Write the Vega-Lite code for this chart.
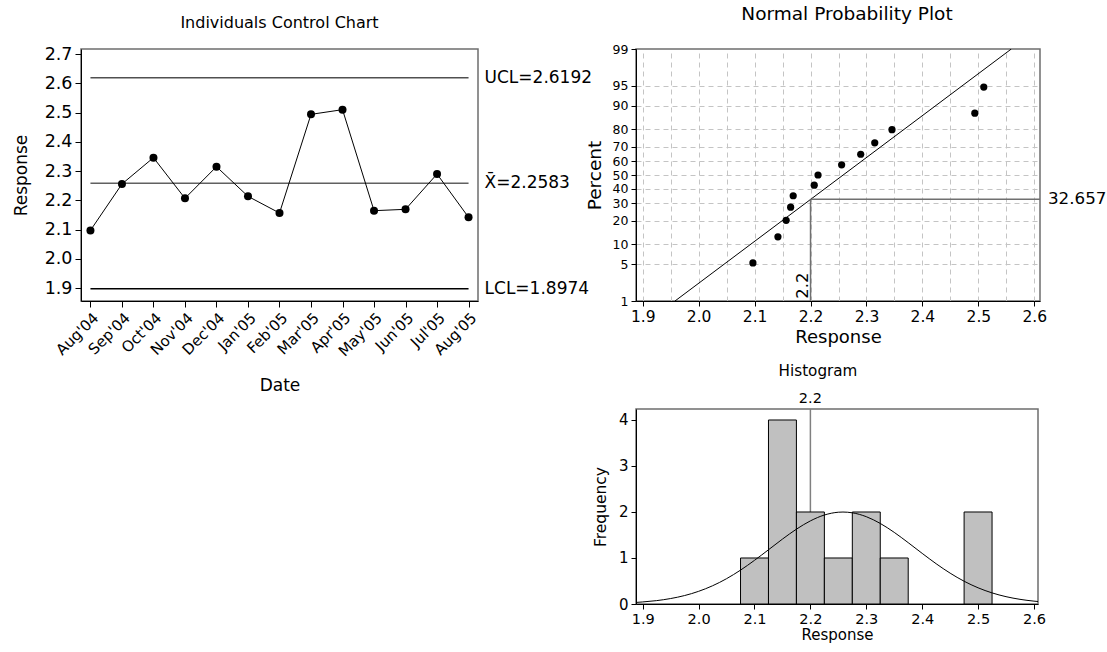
{
  "$schema": "https://vega.github.io/schema/vega-lite/v6.json",
  "background": "white",
  "padding": {"left": 11, "top": 3, "right": 2, "bottom": 2},
  "config": {
    "font": "DejaVu Sans",
    "view": {"stroke": "#6e6e6e", "strokeWidth": 1.5},
    "axis": {"labelColor": "#000", "titleColor": "#000", "domainColor": "#000", "tickColor": "#000", "titleFontWeight": "normal", "grid": false, "labelPadding": 3, "tickSize": 5, "labelOverlap": false, "labelFlush": false},
    "title": {"fontWeight": "normal", "color": "#000", "anchor": "middle"}
  },
  "datasets": {
    "ctrl": [
      {"Index": 0, "Date": "Aug'04", "Response": 2.097},
      {"Index": 1, "Date": "Sep'04", "Response": 2.2556},
      {"Index": 2, "Date": "Oct'04", "Response": 2.3456},
      {"Index": 3, "Date": "Nov'04", "Response": 2.2066},
      {"Index": 4, "Date": "Dec'04", "Response": 2.3148},
      {"Index": 5, "Date": "Jan'05", "Response": 2.2134},
      {"Index": 6, "Date": "Feb'05", "Response": 2.1564},
      {"Index": 7, "Date": "Mar'05", "Response": 2.4937},
      {"Index": 8, "Date": "Apr'05", "Response": 2.5097},
      {"Index": 9, "Date": "May'05", "Response": 2.1644},
      {"Index": 10, "Date": "Jun'05", "Response": 2.169},
      {"Index": 11, "Date": "Jul'05", "Response": 2.2897},
      {"Index": 12, "Date": "Aug'05", "Response": 2.1417}
    ],
    "limits": [
      {"label": "UCL=2.6192", "value": 2.6192, "from": 0, "to": 12},
      {"label": "X\u0304=2.2583", "value": 2.2583, "from": 0, "to": 12},
      {"label": "LCL=1.8974", "value": 1.8974, "from": 0, "to": 12}
    ],
    "prob": [
      {"Response": 2.097, "Percent": 5.22, "Z": -1.6232},
      {"Response": 2.1417, "Percent": 12.69, "Z": -1.1413},
      {"Response": 2.1564, "Percent": 20.15, "Z": -0.8363},
      {"Response": 2.1644, "Percent": 27.61, "Z": -0.5944},
      {"Response": 2.169, "Percent": 35.07, "Z": -0.3833},
      {"Response": 2.2066, "Percent": 42.54, "Z": -0.1882},
      {"Response": 2.2134, "Percent": 50.0, "Z": 0.0},
      {"Response": 2.2556, "Percent": 57.46, "Z": 0.1882},
      {"Response": 2.2897, "Percent": 64.93, "Z": 0.3833},
      {"Response": 2.3148, "Percent": 72.39, "Z": 0.5944},
      {"Response": 2.3456, "Percent": 79.85, "Z": 0.8363},
      {"Response": 2.4937, "Percent": 87.31, "Z": 1.1413},
      {"Response": 2.5097, "Percent": 94.78, "Z": 1.6232}
    ],
    "fit": [
      {"Response": 1.9577, "Z": -2.3263},
      {"Response": 2.5589, "Z": 2.3263}
    ],
    "cross": [
      {"Response": 2.2, "Percent": 32.657, "Z": -0.4494, "label": "32.657", "Zlow": -2.3263, "Xhigh": 2.6102, "Zlabel": -2.285, "Fmax": 4.239}
    ],
    "hist": [
      {"start": 2.075, "end": 2.125, "count": 1, "base": 0},
      {"start": 2.125, "end": 2.175, "count": 4, "base": 0},
      {"start": 2.175, "end": 2.225, "count": 2, "base": 0},
      {"start": 2.225, "end": 2.275, "count": 1, "base": 0},
      {"start": 2.275, "end": 2.325, "count": 2, "base": 0},
      {"start": 2.325, "end": 2.375, "count": 1, "base": 0},
      {"start": 2.475, "end": 2.525, "count": 2, "base": 0}
    ],
    "curve": [
      {"x": 1.888, "f": 0.0341},
      {"x": 1.9, "f": 0.0448},
      {"x": 1.925, "f": 0.0736},
      {"x": 1.95, "f": 0.1186},
      {"x": 1.975, "f": 0.184},
      {"x": 2.0, "f": 0.2752},
      {"x": 2.025, "f": 0.3964},
      {"x": 2.05, "f": 0.5505},
      {"x": 2.075, "f": 0.7364},
      {"x": 2.1, "f": 0.9492},
      {"x": 2.125, "f": 1.1788},
      {"x": 2.15, "f": 1.4107},
      {"x": 2.175, "f": 1.6265},
      {"x": 2.2, "f": 1.8069},
      {"x": 2.225, "f": 1.9342},
      {"x": 2.25, "f": 1.9949},
      {"x": 2.2583, "f": 1.999},
      {"x": 2.275, "f": 1.9825},
      {"x": 2.3, "f": 1.8983},
      {"x": 2.325, "f": 1.7514},
      {"x": 2.35, "f": 1.5568},
      {"x": 2.375, "f": 1.3335},
      {"x": 2.4, "f": 1.1006},
      {"x": 2.425, "f": 0.8752},
      {"x": 2.45, "f": 0.6706},
      {"x": 2.475, "f": 0.495},
      {"x": 2.5, "f": 0.3521},
      {"x": 2.525, "f": 0.2413},
      {"x": 2.55, "f": 0.1594},
      {"x": 2.575, "f": 0.1014},
      {"x": 2.6, "f": 0.0622},
      {"x": 2.6072, "f": 0.0537}
    ]
  },
  "hconcat": [
    {
      "width": 397,
      "height": 252,
      "title": {"text": "Individuals Control Chart", "fontSize": 16, "offset": 14},
      "layer": [
        {
          "data": {"name": "limits"},
          "mark": {"type": "rule", "strokeWidth": 1.5},
          "encoding": {
            "x": {"field": "from", "type": "quantitative"},
            "x2": {"field": "to"},
            "y": {"field": "value", "type": "quantitative"},
            "color": {"field": "label", "type": "nominal", "scale": {"domain": ["UCL=2.6192", "X\u0304=2.2583", "LCL=1.8974"], "range": ["#505050", "#606060", "#000000"]}, "legend": null}
          }
        },
        {
          "data": {"name": "limits"},
          "mark": {"type": "text", "align": "left", "baseline": "middle", "dx": 16, "fontSize": 17, "color": "#000"},
          "encoding": {
            "x": {"field": "to", "type": "quantitative"},
            "y": {"field": "value", "type": "quantitative"},
            "text": {"field": "label", "type": "nominal"}
          }
        },
        {
          "data": {"name": "ctrl"},
          "mark": {"type": "line", "color": "#000", "strokeWidth": 1, "point": {"filled": true, "color": "#000", "size": 64, "opacity": 1}},
          "encoding": {
            "x": {
              "field": "Index", "type": "quantitative",
              "scale": {"domain": [-0.3, 12.3], "nice": false, "zero": false},
              "axis": {"title": "Date", "values": [0, 1, 2, 3, 4, 5, 6, 7, 8, 9, 10, 11, 12], "tickCount": 100, "labelExpr": "[\"Aug'04\", \"Sep'04\", \"Oct'04\", \"Nov'04\", \"Dec'04\", \"Jan'05\", \"Feb'05\", \"Mar'05\", \"Apr'05\", \"May'05\", \"Jun'05\", \"Jul'05\", \"Aug'05\"][datum.value]", "labelAngle": -45, "labelAlign": "right", "labelBaseline": "top", "labelFontSize": 15, "labelOverlap": false, "titleFontSize": 17, "tickSize": 6, "titlePadding": 19}
            },
            "y": {
              "field": "Response", "type": "quantitative",
              "scale": {"domain": [1.8556, 2.7171], "nice": false, "zero": false},
              "axis": {"title": "Response", "values": [1.9, 2.0, 2.1, 2.2, 2.3, 2.4, 2.5, 2.6, 2.7], "tickCount": 100, "format": ".1f", "labelFontSize": 17.5, "labelOverlap": false, "titleFontSize": 17, "titlePadding": 14, "tickSize": 6}
            }
          }
        }
      ]
    },
    {
      "spacing": 108,
      "bounds": "flush",
      "vconcat": [
        {
          "width": 404,
          "height": 252,
          "title": {"text": "Normal Probability Plot", "fontSize": 18.5, "offset": 20, "dx": 9},
          "resolve": {"axis": {"x": "independent"}},
          "layer": [
            {
              "data": {"name": "fit"},
              "mark": {"type": "line", "color": "#000", "strokeWidth": 1, "clip": true},
              "encoding": {
                "x": {
                  "field": "Response", "type": "quantitative",
                  "scale": {"domain": [1.888, 2.6102], "nice": false, "zero": false},
                  "axis": {"orient": "top", "values": [1.9, 1.95, 2.0, 2.05, 2.1, 2.15, 2.2, 2.25, 2.3, 2.35, 2.4, 2.45, 2.5, 2.55, 2.6], "tickCount": 100, "labels": false, "ticks": false, "domain": false, "title": null, "grid": true, "gridColor": "#c4c4c4", "gridDash": [5, 4], "gridWidth": 1}
                },
                "y": {
                  "field": "Z", "type": "quantitative",
                  "scale": {"domain": [-2.3263, 2.3263], "nice": false, "zero": false},
                  "axis": {"title": "Percent", "values": [-2.3263, -1.6449, -1.2816, -0.8416, -0.5244, -0.2533, 0, 0.2533, 0.5244, 0.8416, 1.2816, 1.6449, 2.3263], "tickCount": 100, "labelExpr": "format(cumulativeNormal(datum.value) * 100, '.0f')", "labelFontSize": 12.5, "labelOverlap": false, "titleFontSize": 18.5, "titlePadding": 8, "grid": true, "gridColor": "#c4c4c4", "gridDash": [5, 4], "gridWidth": 1, "gridOpacity": {"condition": {"test": "abs(datum.value) > 2.3", "value": 0}, "value": 1}}
                }
              }
            },
            {
              "data": {"name": "cross"},
              "mark": {"type": "rule", "color": "#707070", "strokeWidth": 1.5},
              "encoding": {
                "x": {"field": "Response", "type": "quantitative", "axis": null},
                "y": {"field": "Zlow", "type": "quantitative"},
                "y2": {"field": "Z"}
              }
            },
            {
              "data": {"name": "cross"},
              "mark": {"type": "rule", "color": "#707070", "strokeWidth": 1.5},
              "encoding": {
                "x": {"field": "Response", "type": "quantitative", "axis": null},
                "x2": {"field": "Xhigh"},
                "y": {"field": "Z", "type": "quantitative"}
              }
            },
            {
              "data": {"name": "cross"},
              "mark": {"type": "text", "align": "left", "baseline": "middle", "dx": 8, "fontSize": 16.7, "color": "#000"},
              "encoding": {
                "x": {"field": "Xhigh", "type": "quantitative", "axis": null},
                "y": {"field": "Z", "type": "quantitative"},
                "text": {"field": "label", "type": "nominal"}
              }
            },
            {
              "data": {"name": "cross"},
              "mark": {"type": "text", "align": "left", "baseline": "bottom", "angle": 270, "fontSize": 16.4, "color": "#000"},
              "encoding": {
                "x": {"field": "Response", "type": "quantitative", "axis": null},
                "y": {"field": "Zlabel", "type": "quantitative"},
                "text": {"field": "Response", "type": "quantitative", "format": ".1f"}
              }
            },
            {
              "data": {"name": "prob"},
              "mark": {"type": "point", "filled": true, "color": "#000", "size": 52, "opacity": 1},
              "encoding": {
                "x": {
                  "field": "Response", "type": "quantitative",
                  "axis": {"title": "Response", "values": [1.9, 2.0, 2.1, 2.2, 2.3, 2.4, 2.5, 2.6], "tickCount": 100, "format": ".1f", "labelFontSize": 15.5, "labelOverlap": false, "titleFontSize": 18, "titlePadding": 4}
                },
                "y": {"field": "Z", "type": "quantitative"}
              }
            }
          ]
        },
        {
          "width": 402,
          "height": 195,
          "title": {"text": "Histogram", "fontSize": 15.2, "offset": 12, "dx": -19},
          "layer": [
            {
              "data": {"name": "cross"},
              "mark": {"type": "rule", "color": "#808080", "strokeWidth": 1.5},
              "encoding": {
                "x": {"field": "Response", "type": "quantitative"}
              }
            },
            {
              "data": {"name": "cross"},
              "mark": {"type": "text", "baseline": "bottom", "dy": -3, "fontSize": 14.5, "color": "#000"},
              "encoding": {
                "x": {"field": "Response", "type": "quantitative"},
                "y": {"field": "Fmax", "type": "quantitative"},
                "text": {"field": "Response", "type": "quantitative", "format": ".1f"}
              }
            },
            {
              "data": {"name": "hist"},
              "mark": {"type": "rect", "fill": "#c0c0c0", "stroke": "#000", "strokeWidth": 1},
              "encoding": {
                "x": {"field": "start", "type": "quantitative"},
                "x2": {"field": "end"},
                "y": {"field": "count", "type": "quantitative"},
                "y2": {"field": "base"}
              }
            },
            {
              "data": {"name": "curve"},
              "mark": {"type": "line", "color": "#000", "strokeWidth": 1, "interpolate": "monotone"},
              "encoding": {
                "x": {
                  "field": "x", "type": "quantitative",
                  "scale": {"domain": [1.888, 2.6072], "nice": false, "zero": false},
                  "axis": {"title": "Response", "values": [1.9, 2.0, 2.1, 2.2, 2.3, 2.4, 2.5, 2.6], "tickCount": 100, "format": ".1f", "labelFontSize": 14.5, "labelOverlap": false, "titleFontSize": 15, "titlePadding": 2}
                },
                "y": {
                  "field": "f", "type": "quantitative",
                  "scale": {"domain": [0, 4.239], "nice": false},
                  "axis": {"title": "Frequency", "values": [0, 1, 2, 3, 4], "tickCount": 100, "format": "d", "labelFontSize": 15, "labelOverlap": false, "titleFontSize": 15.5, "titlePadding": 10}
                }
              }
            }
          ]
        }
      ]
    }
  ],
  "spacing": 158,
  "bounds": "flush"
}
